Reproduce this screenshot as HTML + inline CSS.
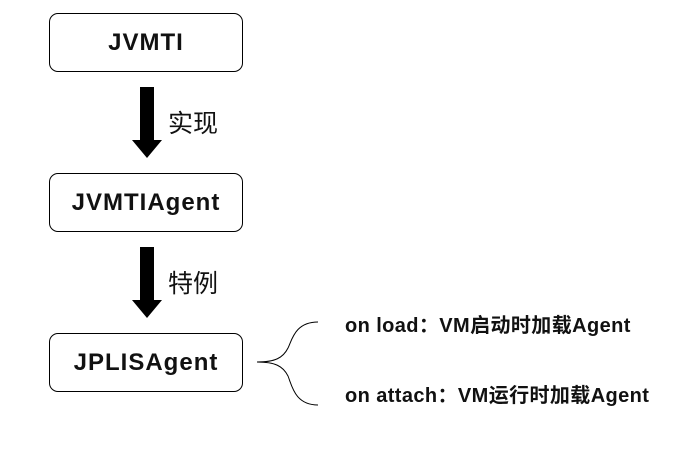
<!DOCTYPE html>
<html><head><meta charset="utf-8"><style>
body{margin:0;width:690px;height:450px;background:#fff;overflow:hidden;position:relative;font-family:"Liberation Sans","Noto Sans CJK SC",sans-serif;}
.b{position:absolute;left:49px;width:192px;height:57px;border:1.5px solid #000;border-radius:9px;display:flex;align-items:center;justify-content:center;font-weight:bold;font-size:24px;letter-spacing:1px;color:#111;}
.t{position:absolute;font-size:25px;color:#111;}
.s{position:absolute;left:345px;font-size:20px;letter-spacing:0.4px;font-weight:bold;color:#111;white-space:nowrap;}
</style></head><body>
<div class="b" style="top:13px">JVMTI</div>
<div class="b" style="top:173px">JVMTIAgent</div>
<div class="b" style="top:333px">JPLISAgent</div>
<svg width="690" height="450" style="position:absolute;left:0;top:0">
<polygon points="140,87 154,87 154,140 162,140 147,158 132,140 140,140" fill="#000"/>
<polygon points="140,247 154,247 154,300 162,300 147,318 132,300 140,300" fill="#000"/>
<path d="M318,322 C295,322 292,340 288,348 C283,358 275,362 257,362 C275,362 283,366 288,376 C292,386 295,405 318,405" fill="none" stroke="#000" stroke-width="1"/>
</svg>
<div class="t" style="left:168px;top:104px">实现</div>
<div class="t" style="left:168px;top:264px">特例</div>
<div class="s" style="top:309px">on load：VM启动时加载Agent</div>
<div class="s" style="top:379px">on attach：VM运行时加载Agent</div>
</body></html>
